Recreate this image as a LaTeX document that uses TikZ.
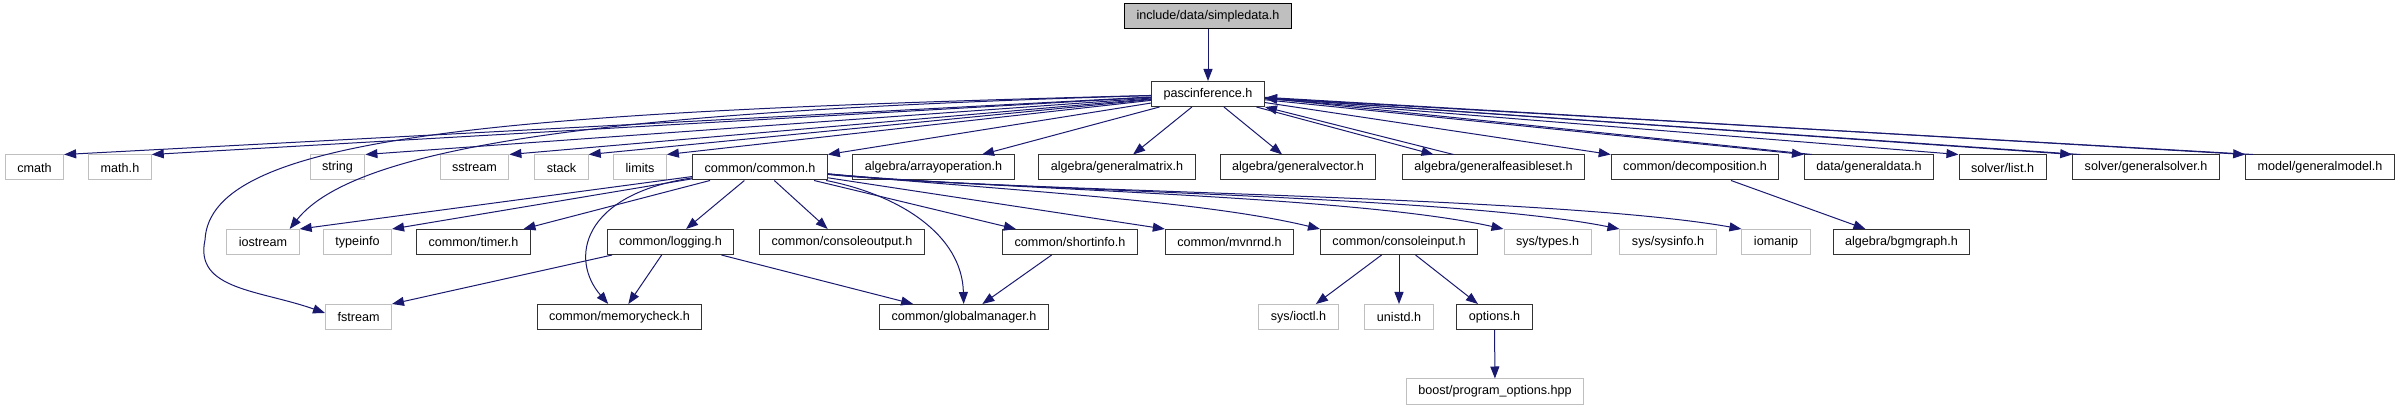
\documentclass[tikz,border=0pt]{standalone}
\usepackage{fontspec}
\setmainfont{Liberation Sans}
\usepackage{xcolor}
\usepackage{tikz}
\usetikzlibrary{arrows.meta}
\definecolor{edgeblue}{HTML}{191970}
\definecolor{sysgray}{HTML}{BFBFBF}

\begin{document}
\begin{tikzpicture}[x=0.5pt, y=-0.5pt, every node/.style={font=\fontsize{6.3}{7.5}\selectfont}] % one unit = one pixel
        % Define box styles
        \tikzstyle{hdr} = [rectangle, draw=black!80, fill=white, line width=0.5pt,
                           minimum height=12.5pt, inner xsep=6pt, inner ysep=0pt]
        \tikzstyle{syshdr} = [hdr, draw=sysgray]
        \tikzstyle{rootfile} = [hdr, draw=black, fill=sysgray]
        \tikzstyle{arrow} = [->, >={Triangle[length=6pt,width=4.5pt]}, draw=edgeblue, line width=0.5pt]

        \useasboundingbox (0,0) rectangle (2400,411);

        % File and its first include
        \node (simpledata) [rootfile] at (1208,16.5) {include/data/simpledata.h};
        \node (pasc) [hdr] at (1208,94) {pascinference.h};

        % Row 1
        \node (cmath) [syshdr] at (34.5,167.5) {cmath};
        \node (mathh) [syshdr] at (120,167.5) {math.h};
        \node (string) [syshdr] at (337.5,167.5) {string};
        \node (sstream) [syshdr] at (474.5,167.5) {sstream};
        \node (stack) [syshdr] at (561.5,167.5) {stack};
        \node (limits) [syshdr] at (640,167.5) {limits};
        \node (common) [hdr] at (760,167.5) {common/common.h};
        \node (arrayop) [hdr] at (933.5,167.5) {algebra/arrayoperation.h};
        \node (genmatrix) [hdr] at (1117,167.5) {algebra/generalmatrix.h};
        \node (genvector) [hdr] at (1298,167.5) {algebra/generalvector.h};
        \node (genfeas) [hdr] at (1493.5,167.5) {algebra/generalfeasibleset.h};
        \node (decomp) [hdr] at (1695,167.5) {common/decomposition.h};
        \node (gendata) [hdr] at (1869,167.5) {data/generaldata.h};
        \node (list) [hdr] at (2002.5,167.5) {solver/list.h};
        \node (gensolver) [hdr] at (2146,167.5) {solver/generalsolver.h};
        \node (genmodel) [hdr] at (2320,167.5) {model/generalmodel.h};

        % Row 2
        \node (iostream) [syshdr] at (263,242) {iostream};
        \node (typeinfo) [syshdr] at (357.5,242) {typeinfo};
        \node (timer) [hdr] at (473.5,242) {common/timer.h};
        \node (logging) [hdr] at (670.5,242) {common/logging.h};
        \node (consoleout) [hdr] at (842,242) {common/consoleoutput.h};
        \node (shortinfo) [hdr] at (1070,242) {common/shortinfo.h};
        \node (mvnrnd) [hdr] at (1229.5,242) {common/mvnrnd.h};
        \node (consolein) [hdr] at (1399,242) {common/consoleinput.h};
        \node (systypes) [syshdr] at (1547.5,242) {sys/types.h};
        \node (sysinfo) [syshdr] at (1668,242) {sys/sysinfo.h};
        \node (iomanip) [syshdr] at (1776,242) {iomanip};
        \node (bgmgraph) [hdr] at (1901.5,242) {algebra/bgmgraph.h};

        % Row 3
        \node (fstream) [syshdr] at (358.5,317) {fstream};
        \node (memcheck) [hdr] at (619.5,317) {common/memorycheck.h};
        \node (globalmgr) [hdr] at (964,317) {common/globalmanager.h};
        \node (ioctl) [syshdr] at (1298.5,317) {sys/ioctl.h};
        \node (unistd) [syshdr] at (1399,317) {unistd.h};
        \node (options) [hdr] at (1494.5,317) {options.h};

        % Row 4
        \node (boostpo) [syshdr] at (1495,391.5) {boost/program\_options.hpp};

        % Arrows from pascinference.h
        \draw [arrow] (simpledata) -- (pasc);
        \draw [arrow] (pasc) -- (cmath.north east);
        \draw [arrow] (pasc) -- (mathh.north east);
        \draw [arrow] (pasc) -- (string.north east);
        \draw [arrow] (pasc) -- (sstream.north east);
        \draw [arrow] (pasc) -- (stack.north east);
        \draw [arrow] (pasc) -- (limits.north east);
        \draw [arrow] (pasc) -- (common.north east);
        \draw [arrow] (pasc) -- (arrayop);
        \draw [arrow] (pasc) -- (genmatrix);
        \draw [arrow] (pasc) -- (genvector);
        \draw [arrow] (pasc) -- ([xshift=-30pt]genfeas.north);
        \draw [arrow] (pasc) -- (decomp.north west);
        \draw [arrow] (pasc) -- (gendata.north west);
        \draw [arrow] (pasc) -- (list.north west);
        \draw [arrow] (pasc) -- (gensolver.north west);
        \draw [arrow] (pasc) -- (genmodel.north west);
        \draw [arrow] (pasc) .. controls (650,110) and (360,140) .. ([xshift=-5pt]iostream.north east);
        \draw [arrow] (pasc) .. controls (500,112) and (210,135) .. (205,240)
                             .. controls (194,290) and (260,290) .. ([yshift=2pt]fstream.west);

        % Arrows back to pascinference.h
        \draw [arrow] ([xshift=-20pt]genfeas.north) -- (pasc.south east);
        \draw [arrow] ([xshift=4pt]gendata.north west) -- ([yshift=-2pt]pasc.east);
        \draw [arrow] ([xshift=4pt]gensolver.north west) -- ([yshift=-2pt]pasc.east);
        \draw [arrow] ([xshift=4pt]genmodel.north west) -- ([yshift=-2pt]pasc.east);

        % Arrows from common/common.h
        \draw [arrow] (common) -- (iostream.north east);
        \draw [arrow] (common) -- (typeinfo.north east);
        \draw [arrow] (common) -- (timer);
        \draw [arrow] (common) -- (logging);
        \draw [arrow] (common) -- (consoleout);
        \draw [arrow] (common) .. controls (580,195) and (570,260) .. (memcheck);
        \draw [arrow] (common) .. controls (900,195) and (962,235) .. (globalmgr);
        \draw [arrow] (common) -- (shortinfo);
        \draw [arrow] (common) -- (mvnrnd.north west);
        \draw [arrow] (common) .. controls (1000,190) and (1200,200) .. (consolein.north west);
        \draw [arrow] (common) .. controls (1000,190) and (1350,195) .. (systypes.north west);
        \draw [arrow] (common) .. controls (1000,191) and (1450,195) .. (sysinfo.north west);
        \draw [arrow] (common) .. controls (1000,192) and (1550,195) .. (iomanip.north west);

        % The rest
        \draw [arrow] (logging) -- (fstream.north east);
        \draw [arrow] (logging) -- (memcheck);
        \draw [arrow] (logging) -- (globalmgr);
        \draw [arrow] (shortinfo) -- (globalmgr);
        \draw [arrow] (consolein) -- (ioctl);
        \draw [arrow] (consolein) -- (unistd);
        \draw [arrow] (consolein) -- (options);
        \draw [arrow] (options) -- (boostpo);
        \draw [arrow] (decomp) -- (bgmgraph);
    \end{tikzpicture}
\end{document}
